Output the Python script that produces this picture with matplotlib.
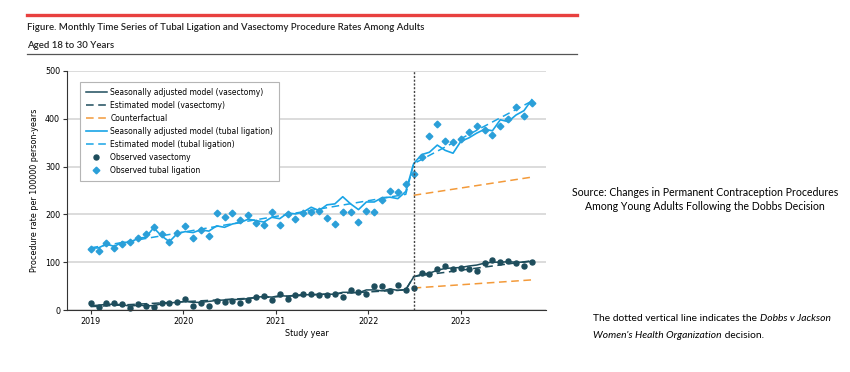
import matplotlib.pyplot as plt
import numpy as np

# monthly index, Jan 2019 = 0 ... Sep 2023 = 56
months = np.arange(57)
dobbs_month = 41

tubal_obs = [127, 123, 140, 129, 138, 143, 150, 158, 173, 158, 143, 162,
             175, 151, 168, 154, 203, 194, 203, 189, 199, 182, 178, 205,
             178, 201, 191, 203, 205, 207, 192, 180, 205, 205, 185, 207,
             205, 230, 249, 246, 263, 285, 320, 363, 390, 353, 351, 357,
             373, 385, 376, 367, 385, 399, 424, 405, 433]
tubal_sa = [129, 130, 138, 133, 142, 141, 150, 152, 172, 155, 143, 160,
            164, 162, 168, 165, 176, 173, 180, 183, 190, 187, 184, 194,
            191, 203, 201, 205, 215, 208, 220, 222, 237, 222, 210, 226,
            226, 235, 236, 233, 248, 306, 325, 330, 345, 334, 328, 353,
            360, 370, 378, 375, 398, 394, 408, 417, 440]
vas_obs = [14, 6, 14, 14, 13, 5, 13, 8, 7, 14, 14, 16,
           23, 9, 15, 9, 18, 16, 18, 15, 21, 28, 30, 21,
           34, 23, 32, 34, 34, 32, 32, 34, 28, 41, 37, 34,
           51, 51, 39, 53, 41, 47, 78, 76, 86, 93, 86, 88,
           85, 81, 98, 105, 100, 102, 98, 92, 101]
vas_sa = [9, 10, 12, 12, 11, 8, 10, 9, 9, 13, 15, 16,
          18, 16, 16, 18, 20, 21, 22, 22, 24, 27, 28, 27,
          30, 29, 31, 32, 32, 33, 33, 33, 37, 37, 36, 42,
          42, 40, 44, 41, 43, 69, 75, 77, 83, 87, 88, 89,
          92, 94, 98, 100, 100, 101, 100, 100, 102]

# estimated (segmented) model knots and counterfactual
est_months = [0, 40, 41, 56]
tubal_est = [130, 242, 306, 437]
vas_est = [7, 42, 70, 103]
cf_months = [41, 56]
tubal_cf = [240, 278]
vas_cf = [46, 63]

year_labels = ["2019", "2020", "2021", "2022", "2023"]
year_ticks = [0, 11.75, 23.5, 35.25, 47]

c_vas = "#1e4d5c"
c_tub = "#19a4e6"
c_tub_pt = "#2b9fd8"
c_cf = "#f39a3a"

fig = plt.figure(figsize=(8.5, 3.72), dpi=100)
ax = fig.add_axes([67/850, 1-310/372, (546-67)/850, (310-71)/372])

ax.plot(months, vas_sa, color=c_vas, lw=1.1, label="Seasonally adjusted model (vasectomy)")
ax.plot(est_months, vas_est, color=c_vas, lw=1.1, ls=(0, (5, 3)), label="Estimated model (vasectomy)")
ax.plot(cf_months, tubal_cf, color=c_cf, lw=1.1, ls=(0, (5, 3)), label="Counterfactual")
ax.plot(cf_months, vas_cf, color=c_cf, lw=1.1, ls=(0, (5, 3)))
ax.plot(months, tubal_sa, color=c_tub, lw=1.2, label="Seasonally adjusted model (tubal ligation)")
ax.plot(est_months, tubal_est, color=c_tub, lw=1.1, ls=(0, (5, 3)), label="Estimated model (tubal ligation)")
ax.plot(months, vas_obs, "o", color=c_vas, ms=3.6, ls="none", label="Observed vasectomy", clip_on=False)
ax.plot(months, tubal_obs, "D", color=c_tub_pt, ms=3.4, ls="none", label="Observed tubal ligation")

ax.axvline(dobbs_month, color="#444444", lw=1, ls=(0, (1.5, 1.2)))

ax.set_xlim(-3, 57.8)
ax.set_ylim(0, 500)
ax.set_yticks([0, 100, 200, 300, 400, 500])
ax.set_xticks(year_ticks)
ax.set_xticklabels(year_labels)
ax.yaxis.grid(True, color="#d6d6d6", lw=1.2)
ax.set_axisbelow(True)
for s in ["top", "right"]:
    ax.spines[s].set_visible(False)
for s in ["left", "bottom"]:
    ax.spines[s].set_color("#333333")
    ax.spines[s].set_linewidth(0.8)
ax.tick_params(labelsize=5.8, length=3, width=0.8, color="#333333", pad=2)
ax.set_xlabel("Study year", fontsize=5.8, labelpad=2)
ax.set_ylabel("Procedure rate per 100000 person-years", fontsize=5.8, labelpad=4)

leg = ax.legend(loc="upper left", bbox_to_anchor=(0.027, 0.954), borderaxespad=0,
                fontsize=5.5, fancybox=False, edgecolor="#b5b5b5", framealpha=1,
                handlelength=2.7, labelspacing=0.52, borderpad=0.8, handletextpad=0.5)
leg.get_frame().set_linewidth(0.8)

# header
fig.add_artist(plt.Line2D([27/850, 577/850], [1-15/372, 1-15/372], color="#e8403f", lw=2.4))
fig.add_artist(plt.Line2D([27/850, 577/850], [1-54/372, 1-54/372], color="#555555", lw=0.9))
title_font = ["Lato", "DejaVu Sans"]
fig.text(27/850, 1-28/372, "Figure. Monthly Time Series of Tubal Ligation and Vasectomy Procedure Rates Among Adults",
         fontsize=6.95, family=title_font, weight="semibold", va="center", color="#222222")
fig.text(27/850, 1-45/372, "Aged 18 to 30 Years", fontsize=6.95, family=title_font, weight="semibold",
         va="center", color="#222222")

note_font = ["Lato", "DejaVu Sans"]
fig.text(705/850, 1-193/372, "Source: Changes in Permanent Contraception Procedures",
         fontsize=7.6, family=note_font, ha="center", va="center")
fig.text(705/850, 1-207/372, "Among Young Adults Following the Dobbs Decision",
         fontsize=7.6, family=note_font, ha="center", va="center")

t1 = fig.text(593/850, 1-321/372, "The dotted vertical line indicates the ",
              fontsize=7.35, family=note_font, va="baseline")
ax.annotate("Dobbs v Jackson", xy=(1, 0), xycoords=t1, va="bottom", ha="left",
            fontsize=7.35, family=note_font, style="italic")
t2 = fig.text(593/850, 1-338/372, "Women's Health Organization",
              fontsize=7.35, family=note_font, style="italic", va="baseline")
ax.annotate(" decision.", xy=(1, 0), xycoords=t2, va="bottom", ha="left",
            fontsize=7.35, family=note_font)

fig.savefig("out.png", dpi=100)
